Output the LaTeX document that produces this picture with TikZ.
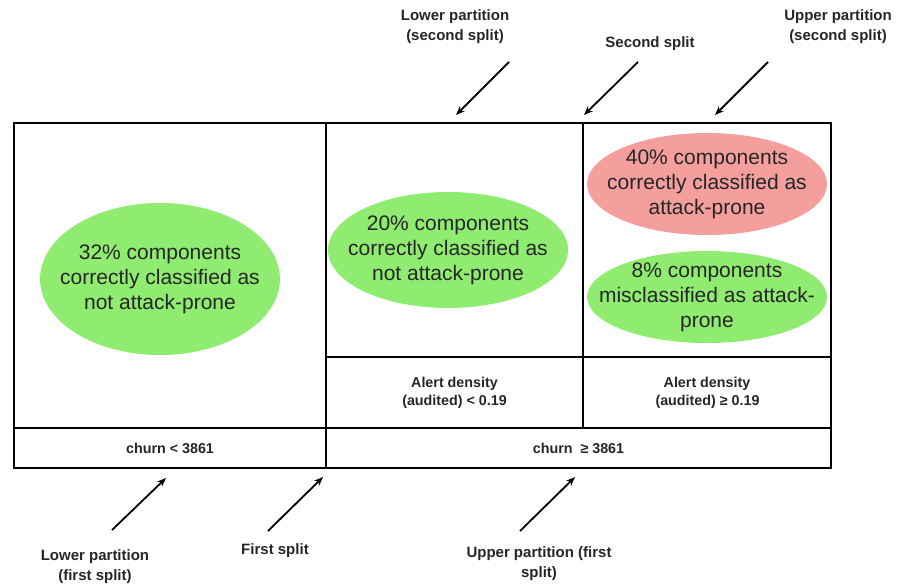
\documentclass[tikz,border=0pt]{standalone}
\usepackage{fontspec}
\setmainfont{Liberation Sans}
\usetikzlibrary{shapes.geometric,arrows.meta}
\definecolor{okgreen}{RGB}{144,236,112}
\definecolor{badred}{RGB}{244,158,158}
\tikzset{
  cell/.style={draw=black, line width=2pt, anchor=north west, inner sep=0pt, font=\bfseries\fontsize{14.3}{18}\selectfont, align=center, text=black!85},
  blob/.style={ellipse, inner sep=0pt},
  okblob/.style={blob, fill=okgreen},
  badblob/.style={blob, fill=badred},
  blobtext/.style={inner sep=0pt, align=center, font=\fontsize{21}{25}\selectfont, text=black!85},
  note/.style={align=center, font=\bfseries\fontsize{15}{20}\selectfont, text=black!85},
  pointer/.style={line width=1.8pt, -{Stealth[length=9pt,width=7pt]}}
}
\begin{document}
\begin{tikzpicture}[x=1pt,y=-1pt]
\path[use as bounding box] (0,0) rectangle (905,587);
% cells
\node[cell, minimum width=312pt, minimum height=305pt] (cellL) at (13,122) {};
\node[cell, minimum width=312pt, minimum height=40pt] (churnL) at (13,427) {churn {\textless} 3861};
\node[cell, minimum width=257pt, minimum height=234pt] (cellM) at (325,122) {};
\node[cell, minimum width=257pt, minimum height=71pt] (alertL) at (325,356) {Alert density\\(audited) {\textless} 0.19};
\node[cell, minimum width=248pt, minimum height=234pt] (cellR) at (582,122) {};
\node[cell, minimum width=248pt, minimum height=71pt] (alertR) at (582,356) {Alert density\\\hspace*{1pt}(audited) ≥ 0.19};
\node[cell, minimum width=505pt, minimum height=40pt] (churnR) at (325,427) {churn \ ≥ 3861};
% ellipses
\node[okblob, minimum width=240pt, minimum height=152pt] (e32) at (160,279) {};
\node[blobtext] (t32) at (e32) {32\% components\\correctly classified as\\not attack-prone};
\node[okblob, minimum width=240pt, minimum height=116pt] (e20) at (448,250) {};
\node[blobtext] (t20) at (e20) {20\% components\\correctly classified as\\not attack-prone};
\node[badblob, minimum width=240pt, minimum height=102pt] (e40) at (707,184) {};
\node[blobtext] (t40) at (e40) {40\% components\\correctly classified as\\attack-prone};
\node[okblob, minimum width=240pt, minimum height=92pt] (e8) at (707,297) {};
\node[blobtext] (t8) at (e8) {8\% components\\misclassified as attack-\\prone};
% labels
\node[note] (lps) at (455,27) {Lower partition\\(second split)};
\node[note] (ss) at (650,44) {Second split};
\node[note] (ups) at (838,27) {Upper partition\\(second split)};
\node[note] (lpf) at (95,567) {Lower partition\\(first split)};
\node[note] (fs) at (275,551) {First split};
\node[note] (upf) at (539,564) {Upper partition (first\\split)};
% arrow ends
\coordinate (a1s) at (509,62);  \coordinate (a1e) at (456,115);
\coordinate (a2s) at (638,62);  \coordinate (a2e) at (584,115);
\coordinate (a3s) at (768,62);  \coordinate (a3e) at (715,115);
\coordinate (b1s) at (112,530); \coordinate (b1e) at (166,478);
\coordinate (b2s) at (268,531); \coordinate (b2e) at (323,477);
\coordinate (b3s) at (520,531); \coordinate (b3e) at (575,477);
\draw[pointer] (a1s) -- (a1e);
\draw[pointer] (a2s) -- (a2e);
\draw[pointer] (a3s) -- (a3e);
\draw[pointer] (b1s) -- (b1e);
\draw[pointer] (b2s) -- (b2e);
\draw[pointer] (b3s) -- (b3e);
\end{tikzpicture}
\end{document}
